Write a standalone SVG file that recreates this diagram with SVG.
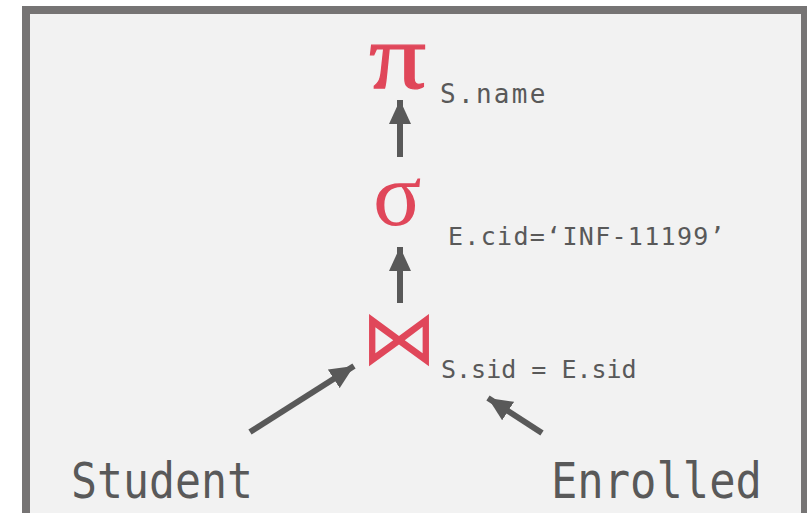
<svg xmlns="http://www.w3.org/2000/svg" width="807" height="513" viewBox="0 0 807 513">
<defs>
<style>
.op{fill:#e0475a;font-family:"Liberation Serif",serif;}
.lbl{fill:#595959;font-family:"DejaVu Sans Mono","Liberation Mono",monospace;}
.rel{fill:#595959;font-family:"DejaVu Sans Mono",monospace;font-size:50px;}
.edge{stroke:#595959;stroke-width:6;fill:none;}
</style>
<marker id="ah" markerUnits="userSpaceOnUse" viewBox="0 0 24 22" refX="24" refY="11" markerWidth="24" markerHeight="22" orient="auto">
<path d="M0,0 L24,11 L0,22 Z" fill="#595959"/>
</marker>
</defs>
<rect x="0" y="0" width="807" height="513" fill="#ffffff"/>
<rect x="26" y="10" width="779" height="520" fill="#f2f2f2" stroke="#767474" stroke-width="8"/>
<g id="project">
<text class="op" transform="translate(369,88) scale(1.18,0.96)" x="0" y="0" font-size="96" stroke="#e0475a" stroke-width="1.2">π</text>
<text class="lbl" x="440" y="103" font-size="26" letter-spacing="2.3">S.name</text>
</g>
<g id="select">
<text class="op" x="373" y="225" font-size="90">σ</text>
<text class="lbl" x="448" y="245" font-size="25" letter-spacing="1.3">E.cid=‘INF-11199’</text>
</g>
<g id="join">
<text class="op" x="361" y="364" font-size="76" font-family="DejaVu Sans,sans-serif">⋈</text>
<text class="lbl" x="441" y="378" font-size="25">S.sid = E.sid</text>
</g>
<g id="student">
<text class="rel" x="71" y="498" textLength="182" lengthAdjust="spacingAndGlyphs">Student</text>
</g>
<g id="enrolled">
<text class="rel" x="551" y="498" textLength="211" lengthAdjust="spacingAndGlyphs">Enrolled</text>
</g>
<g id="connectors">
<line class="edge" x1="400" y1="157" x2="400" y2="100" marker-end="url(#ah)"/>
<line class="edge" x1="400" y1="303" x2="400" y2="247" marker-end="url(#ah)"/>
<line class="edge" x1="250" y1="432" x2="354" y2="366" marker-end="url(#ah)"/>
<line class="edge" x1="542" y1="433" x2="488" y2="398" marker-end="url(#ah)"/>
</g>
</svg>
